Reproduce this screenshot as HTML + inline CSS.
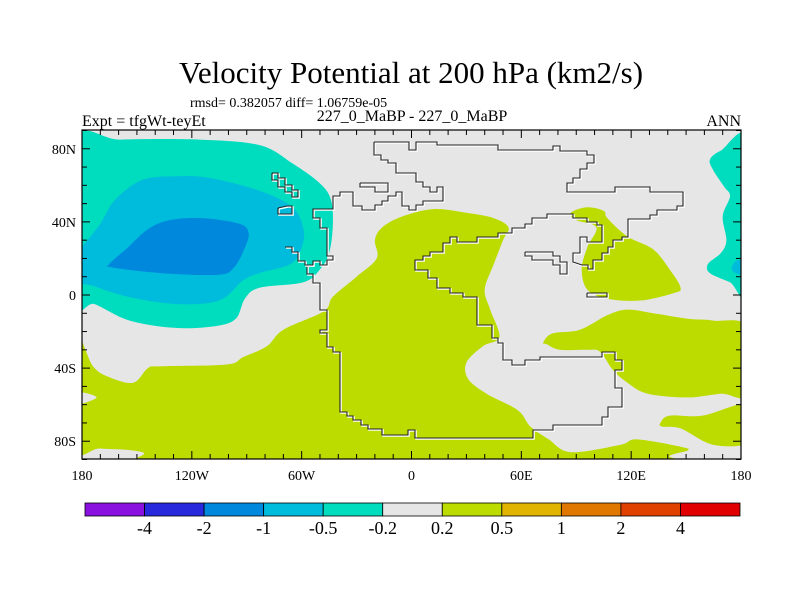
<!DOCTYPE html>
<html><head><meta charset="utf-8">
<style>
html,body{margin:0;padding:0;background:#fff;}
svg{display:block;font-family:"Liberation Serif",serif;}
</style></head>
<body>
<svg id="chart" width="800" height="600" viewBox="0 0 800 600">
<defs><clipPath id="plotclip"><rect x="82" y="130" width="659" height="329"/></clipPath></defs>
<text x="411" y="83" font-size="31" text-anchor="middle">Velocity Potential at 200 hPa (km2/s)</text>
<text x="190" y="107" font-size="14">rmsd= 0.382057 diff= 1.06759e-05</text>
<text x="82" y="126" font-size="16">Expt = tfgWt-teyEt</text>
<text x="412" y="121" font-size="16" text-anchor="middle">227_0_MaBP - 227_0_MaBP</text>
<text x="741" y="126" font-size="16" text-anchor="end">ANN</text>
<rect x="82" y="130" width="659" height="329" fill="#e6e6e6"/>
<g id="fills" clip-path="url(#plotclip)"></g>
<g id="coast" clip-path="url(#plotclip)"></g>
<g id="axes"></g>
<g id="cbar"></g>
</svg>
<script>
// ---- data ----
const levels = ["-4","-2","-1","-0.5","-0.2","0.2","0.5","1","2","4"];
const levelColors = ["#8a10e0","#2828dc","#0088dc","#00bcdc","#00dcbe","#e6e6e6","#bcdc00","#e0b400","#e07800","#e04000","#e00000"];
const lonTicks = [-180,-120,-60,0,60,120,180];
const lonLabels = ["180","120W","60W","0","60E","120E","180"];
const latTicks = [80,40,0,-40,-80];
const latLabels = ["80N","40N","0","40S","80S"];
// contour polygons [lon,lat]
const tealNW = [[-184,83],[-159,85],[-116,85],[-83,82],[-65,72],[-50,61],[-44,52],[-43,38],[-45,23],[-50,14],[-59,7],[-83,4],[-91,-2],[-96,-13],[-107,-17],[-129,-18],[-154,-14],[-173,-5],[-184,-2]];
const cyanNW = [[-184,20],[-170,39],[-162,52],[-147,63],[-128,65],[-110,64],[-83,57],[-65,48],[-59,36],[-60,26],[-66,17],[-83,12],[-92,8],[-105,-3],[-128,-5],[-155,-1],[-174,5],[-184,8]];
const blueNW = [[-165,17],[-155,26],[-144,36],[-132,41],[-114,42],[-94,39],[-89,34],[-91,26],[-97,15],[-106,11],[-137,12],[-163,15]];
const greenMain = [[-184,-22],[-174,-39],[-165,-45],[-152,-48],[-144,-40],[-137,-39],[-101,-38],[-92,-34],[-79,-28],[-70,-19],[-48,-9],[-43,-1],[-30,10],[-19,20],[-20,30],[-16,37],[-5,43],[12,47],[30,45],[45,42],[53,37],[50,30],[45,17],[40,3],[43,-8],[48,-23],[39,-28],[30,-37],[31,-46],[41,-54],[58,-63],[65,-72],[75,-79],[87,-86],[114,-82],[123,-79],[147,-83],[151,-85],[141,-88],[132,-95],[-128,-95],[-147,-86],[-170,-84],[-184,-83]];
const grayNotch = [[-184,-53],[-172,-56],[-184,-60]];
const greenAsia = [[87,45],[96,48],[105,46],[107,42],[118,32],[132,25],[141,14],[147,4],[143,1],[125,-3],[107,-2],[96,3],[93,14],[96,26],[101,37],[90,41]];
const greenIndian = [[72,-26],[77,-21],[92,-19],[107,-11],[118,-8],[132,-10],[151,-13],[165,-14],[184,-18],[184,-54],[169,-54],[151,-56],[129,-54],[118,-48],[110,-41],[103,-31],[96,-30],[81,-30],[74,-27]];
const greenSE = [[136,-70],[141,-66],[159,-66],[184,-60],[184,-80],[165,-82],[147,-73],[137,-72]];
const tealNE = [[184,84],[169,79],[163,74],[165,68],[171,59],[174,54],[170,43],[172,30],[169,23],[162,17],[163,12],[174,7],[184,2]];
const cyanNE = [[175,15],[178,19],[184,18],[184,11],[177,12]];
const fillLayers = [[tealNW,4,"teal-region-northwest"],[cyanNW,3,"cyan-region-northwest"],[blueNW,2,"blue-region-northwest"],[greenMain,6,"green-region-main"],[grayNotch,5,"gray-notch"],[greenAsia,6,"green-region-asia"],[greenIndian,6,"green-region-indian"],[greenSE,6,"green-region-southeast"],[tealNE,4,"teal-region-northeast"],[cyanNE,3,"cyan-region-northeast"]];
// coastline (pixel-space basemap outline)
const coastMain = [[374,142],[409,142],[409,150],[416,150],[416,142],[437,142],[437,145],[498,145],[498,150],[553,150],[553,146],[560,146],[560,151],[587,151],[587,155],[594,155],[594,163],[587,163],[587,169],[580,169],[580,178],[573,178],[573,183],[567,183],[567,192],[615,192],[615,187],[650,187],[650,192],[683,192],[683,206],[677,206],[677,210],[657,210],[657,215],[650,215],[650,219],[628,219],[628,237],[622,237],[622,240],[613,240],[613,247],[608,247],[608,253],[602,253],[602,260],[593,260],[593,269],[588,269],[588,265],[582,265],[573,262],[573,253],[580,253],[580,237],[587,237],[587,242],[602,242],[602,225],[597,225],[597,222],[587,222],[587,218],[573,218],[573,214],[547,214],[547,218],[532,218],[532,224],[525,224],[525,228],[512,228],[512,233],[498,233],[498,237],[477,237],[477,242],[457,242],[457,237],[450,237],[450,243],[443,243],[443,252],[430,252],[430,256],[423,256],[423,260],[415,260],[415,270],[428,270],[428,278],[437,278],[437,288],[450,288],[450,293],[463,293],[463,297],[477,297],[477,325],[492,325],[492,338],[498,338],[498,343],[503,343],[503,360],[512,360],[512,365],[525,365],[525,360],[540,360],[540,357],[602,357],[602,352],[615,352],[615,360],[622,360],[622,370],[615,370],[615,388],[622,388],[622,407],[608,407],[608,417],[602,417],[602,425],[553,425],[553,430],[533,430],[533,438],[415,438],[415,430],[408,430],[408,435],[382,435],[382,429],[368,429],[368,425],[361,425],[361,420],[353,420],[353,416],[347,416],[347,412],[340,412],[340,352],[333,352],[333,347],[327,347],[327,333],[320,333],[320,330],[327,330],[327,310],[320,310],[320,283],[313,283],[313,274],[307,274],[307,265],[313,265],[313,261],[320,261],[320,265],[327,265],[327,260],[333,260],[333,256],[327,256],[327,228],[320,228],[320,218],[313,218],[313,209],[333,209],[333,196],[340,196],[340,192],[353,192],[353,206],[362,206],[362,210],[375,210],[375,205],[382,205],[382,201],[388,201],[388,196],[396,196],[396,192],[402,192],[402,206],[409,206],[409,210],[416,210],[416,205],[423,205],[423,201],[443,201],[443,187],[437,187],[437,192],[430,192],[430,187],[423,187],[423,182],[416,182],[416,173],[396,173],[396,163],[388,163],[388,160],[381,160],[381,155],[374,155],[374,142]];
const coastLoops = [
 [[272,173],[278,173],[278,178],[285,178],[285,185],[292,185],[292,190],[298,190],[298,197],[292,197],[292,192],[285,192],[285,187],[278,187],[278,180],[272,180],[272,173]],
 [[278,208],[287,206],[292,206],[292,214],[278,214],[278,208]],
 [[285,247],[292,247],[292,252],[298,252],[298,261],[305,261],[305,265],[313,265]],
 [[360,183],[388,183],[388,192],[375,192],[375,187],[360,187],[360,183]],
 [[525,252],[553,252],[553,256],[560,256],[560,262],[567,262],[567,274],[560,274],[560,265],[553,265],[553,260],[532,260],[532,256],[525,256],[525,252]],
 [[587,293],[607,293],[607,297],[587,297],[587,293]]
];
// ---- axes ----
const X0=82, X1=741, Y0=130, Y1=459;
function xs(lon){return X0+(lon+180)*(X1-X0)/360;}
function ys(lat){return 295-lat*(Y1-Y0)/180;}
const NS="http://www.w3.org/2000/svg";
function mk(tag,attrs,parent){const e=document.createElementNS(NS,tag);for(const k in attrs)e.setAttribute(k,attrs[k]);parent.appendChild(e);return e;}
function smoothClosed(P){
  const n=P.length; let d="M"+P[0][0].toFixed(1)+","+P[0][1].toFixed(1);
  for(let i=0;i<n;i++){
    const p0=P[(i-1+n)%n],p1=P[i],p2=P[(i+1)%n],p3=P[(i+2)%n];
    const c1x=p1[0]+(p2[0]-p0[0])/6,c1y=p1[1]+(p2[1]-p0[1])/6;
    const c2x=p2[0]-(p3[0]-p1[0])/6,c2y=p2[1]-(p3[1]-p1[1])/6;
    d+="C"+c1x.toFixed(1)+","+c1y.toFixed(1)+" "+c2x.toFixed(1)+","+c2y.toFixed(1)+" "+p2[0].toFixed(1)+","+p2[1].toFixed(1);
  }
  return d+"Z";
}
const fills=document.getElementById('fills');
fillLayers.forEach(function(L){
  const pts=L[0].map(p=>[xs(p[0]),ys(p[1])]);
  const el=mk('path',{d:smoothClosed(pts),fill:levelColors[L[1]]},fills);
  
  
});
const coast=document.getElementById('coast');
[coastMain].concat(coastLoops).forEach(function(c,i){
  const pts=c.map(p=>p[0]+","+p[1]).join(" ");
  mk('polyline',{points:pts,fill:"none",stroke:"#fff","stroke-width":1.6,transform:"translate(1,1)"},coast);
  const el=mk('polyline',{points:pts,fill:"none",stroke:"#222","stroke-width":1.1},coast);
  
  
});
const ax=document.getElementById('axes');
mk('rect',{x:X0,y:Y0,width:X1-X0,height:Y1-Y0,fill:"none",stroke:"#000","stroke-width":1.2},ax);
for(let lon=-180;lon<=180;lon+=10){
  const major=lon%60===0, len=major?8:5, x=xs(lon);
  mk('line',{x1:x,y1:Y1,x2:x,y2:Y1-len,stroke:"#000"},ax);
  mk('line',{x1:x,y1:Y0,x2:x,y2:Y0+len,stroke:"#000"},ax);
}
for(let lat=-90;lat<=90;lat+=10){
  const major=(lat%40===0), len=major?8:5, y=ys(lat);
  mk('line',{x1:X0,y1:y,x2:X0+len,y2:y,stroke:"#000"},ax);
  mk('line',{x1:X1,y1:y,x2:X1-len,y2:y,stroke:"#000"},ax);
}
lonTicks.forEach(function(v,i){
  const t=mk('text',{x:xs(v),y:480,"font-size":14,"text-anchor":"middle"},ax);
  t.textContent=lonLabels[i];
  
  
});
latTicks.forEach(function(v,i){
  const t=mk('text',{x:76,y:ys(v)+5,"font-size":14,"text-anchor":"end"},ax);
  t.textContent=latLabels[i];
  
  
});
// ---- colorbar ----
const cb=document.getElementById('cbar');
const cbX0=85, cbX1=740, n=levelColors.length, w=(cbX1-cbX0)/n;
levelColors.forEach(function(c,i){
  const r=mk('rect',{x:cbX0+i*w,y:503,width:w,height:13,fill:c,stroke:"#000","stroke-width":0.8},cb);
  
  
});
levels.forEach(function(l,i){
  const t=mk('text',{x:cbX0+(i+1)*w,y:534,"font-size":18,"text-anchor":"middle"},cb);
  t.textContent=l;
  
  
});
</script>
</body></html>
